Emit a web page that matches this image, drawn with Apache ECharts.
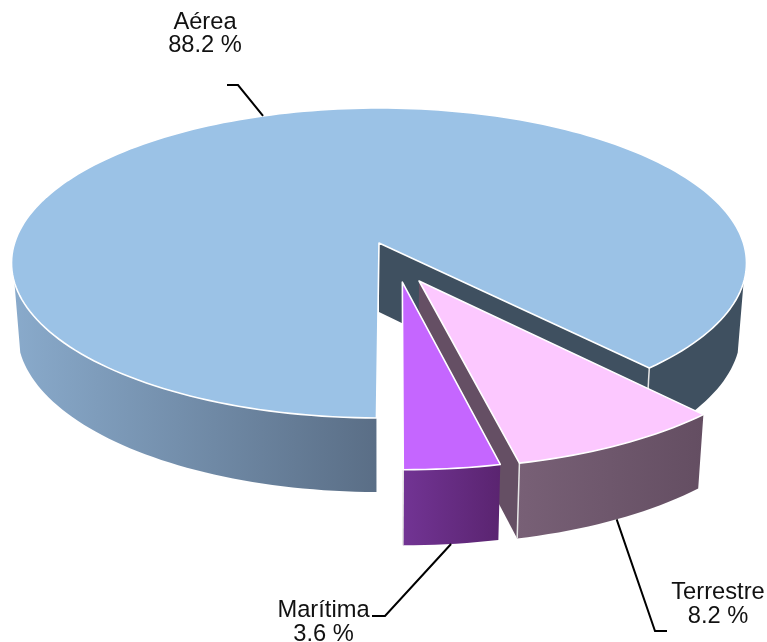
<!DOCTYPE html>
<html>
<head>
<meta charset="utf-8">
<style>html,body{margin:0;padding:0;background:#fff}#c{width:767px;height:642px}</style>
<script src="https://cdn.jsdelivr.net/npm/echarts@6/dist/echarts.min.js"></script>
</head>
<body>
<div id="c"></div>
<script>
// ---- data ----
var categories = ['Aérea', 'Terrestre', 'Marítima'];
var shares = [88.2, 8.2, 3.6];

// ---- drawing styles ----
var topColors = ['#9bc2e6', '#fcc8ff', '#c566ff'];
var wallFrom = ['#89aacb', '#786076', '#723494'];
var wallTo = ['#5a6e86', '#644e62', '#5a2470'];
var innerWall = ['#3f5060', '#654f64', null];
var explode = [[0, 0], [0.1065, 0.2416], [0.062, 0.248]];
var labelBox = [[205, 22, 23.5], [718, 592, 24.5], [323.5, 610, 24]];
var leaderEnds = [[[238, 85], [227, 85]], [[655, 631], [667, 631]], [[385, 616], [372, 616]]];

// Perspective disc: top face and bottom face of the pie
var CX = 379, K = 0.129, RX = 364.4;
var TOP = { y: 243, a: 152.4, s: 1 };
var BOT = { y: 312, a: 156.8, s: 0.984 };
var START = 180.35;           // where the first slice begins, degrees clockwise from the back
var SILHOUETTE = 104.5;       // side wall is visible from this angle to the front

function project(plane, u, v) {
  var w = 1 - K * v;
  return [CX + plane.s * RX * u / w, plane.y + plane.a * v / w];
}
function rim(deg, off) {
  var r = deg * Math.PI / 180;
  return [off[0] + Math.sin(r), off[1] - Math.cos(r)];
}
function arc(plane, from, to, off) {
  var pts = [], n = Math.max(2, Math.ceil(Math.abs(to - from) / 1.5));
  for (var i = 0; i <= n; i++) {
    var p = rim(from + (to - from) * i / n, off);
    pts.push(project(plane, p[0], p[1]));
  }
  return pts;
}
function wall(from, to, off, idx) {
  return {
    type: 'polygon',
    shape: { points: arc(TOP, from, to, off).concat(arc(BOT, from, to, off).reverse()) },
    style: {
      fill: {
        type: 'linear', x: 0, y: 0, x2: 1, y2: 0,
        colorStops: [{ offset: 0, color: wallFrom[idx] }, { offset: 1, color: wallTo[idx] }]
      }
    }
  };
}
function flat(from, to, off, color, stroke) {
  return { type: 'polygon', shape: { points: arc(TOP, from, to, off) }, style: { fill: color, stroke: stroke } };
}
function face(deg, off, color) {
  var a = project(TOP, off[0], off[1]), b = project(BOT, off[0], off[1]);
  var p = rim(deg, off);
  return {
    type: 'polygon',
    shape: { points: [a, project(TOP, p[0], p[1]), project(BOT, p[0], p[1]), b] },
    style: { fill: color }
  };
}
function edge(p, off) {
  var q = rim(p, off);
  return {
    type: 'line',
    shape: (function (s, e) { return { x1: s[0], y1: s[1], x2: e[0], y2: e[1] }; })(project(TOP, q[0], q[1]), project(BOT, q[0], q[1])),
    style: { stroke: '#e6e6e6', lineWidth: 1.5 }
  };
}

var sum = shares.reduce(function (s, v) { return s + v; }, 0);

function renderItem(params, api) {
  var i = params.dataIndex;
  var before = 0;
  for (var j = 0; j < i; j++) before += shares[j];
  var value = api.value(0);
  var a0 = START + before / sum * 360;
  var a1 = a0 + value / sum * 360;
  var off = explode[i];
  var kids = [];

  if (i === 0) {
    // big slice: inner wall, then the two visible stretches of outer wall
    kids.push(face(a1, off, innerWall[0]));
    var right = wall(360 + SILHOUETTE, a1, off, 0);
    right.style.fill = innerWall[0];
    kids.push(right);
    kids.push(wall(a0, 360 - SILHOUETTE, off, 0));
    kids.push(edge(a1, off));
  } else {
    if (innerWall[i]) kids.push(face(a1, off, innerWall[i]));
    kids.push(wall(a0 % 360, a1 % 360 || 360, off, i));
    kids.push(edge(a1, off));
  }

  var apex = off.slice();
  var top = flat(a0, a1, off, topColors[i], '#ffffff');
  top.shape.points = [project(TOP, apex[0], apex[1])].concat(top.shape.points);
  top.style.lineWidth = 1.6;
  top.style.lineJoin = 'round';
  kids.push(top);

  // leader from the middle of the slice's rim to its label
  var mid = rim((a0 + a1) / 2, off);
  var start = project(i === 0 ? TOP : BOT, mid[0], mid[1]);
  kids.push({
    type: 'polyline',
    shape: { points: [start, leaderEnds[i][0], leaderEnds[i][1]] },
    style: { stroke: '#000', lineWidth: 2, fill: 'none' }
  });

  // label: name over percentage
  var lb = labelBox[i];
  [categories[i], value.toFixed(1) + ' %'].forEach(function (t, n) {
    kids.push({
      type: 'text',
      style: {
        text: t, x: lb[0], y: lb[1] + n * lb[2], align: 'center', verticalAlign: 'middle',
        font: '23.7px "Liberation Sans", Arial, sans-serif', fill: '#111'
      }
    });
  });
  return { type: 'group', children: kids };
}

var chart = echarts.init(document.getElementById('c'), null, { renderer: 'canvas' });
chart.setOption({
  animation: false,
  backgroundColor: '#fff',
  tooltip: { show: false },
  series: [{
    type: 'custom',
    coordinateSystem: 'none',
    clip: false,
    renderItem: renderItem,
    data: shares.map(function (v, i) { return { name: categories[i], value: [v] }; })
  }]
});
</script>
</body>
</html>
